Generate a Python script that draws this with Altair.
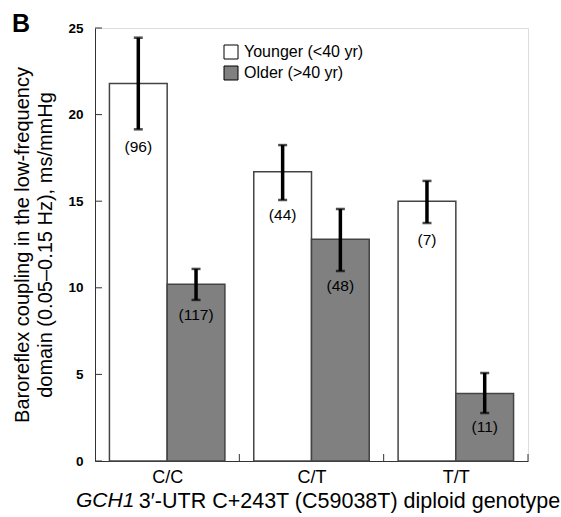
import altair as alt
import pandas as pd

genotypes = ["C/C", "C/T", "T/T"]
groups = ["Younger (<40 yr)", "Older (>40 yr)"]

mean_young = [21.8, 16.7, 15.0]
mean_old = [10.2, 12.8, 3.9]
low_young = [19.15, 15.07, 13.74]
high_young = [24.44, 18.24, 16.17]
low_old = [9.3, 10.97, 2.77]
high_old = [11.09, 14.55, 5.08]
n_young = ["(96)", "(44)", "(7)"]
n_old = ["(117)", "(48)", "(11)"]
labely_young = [18.13, 14.2, 12.76]
labely_old = [8.43, 10.1, 1.96]

y_tick_values = [0, 5, 10, 15, 20, 25]
x_title_italic = "GCH1"
x_title_rest = "3\u2032-UTR C+243T (C59038T) diploid genotype"
y_title = ["Baroreflex coupling in the low-frequency", "domain (0.05\u20130.15 Hz), ms/mmHg"]
panel_label = "B"

rows = []
for i, g in enumerate(genotypes):
    rows.append(dict(genotype=g, group=groups[0], mean=mean_young[i], lo=low_young[i],
                     hi=high_young[i], n=n_young[i], ly=labely_young[i]))
    rows.append(dict(genotype=g, group=groups[1], mean=mean_old[i], lo=low_old[i],
                     hi=high_old[i], n=n_old[i], ly=labely_old[i]))
df = pd.DataFrame(rows)

W, H = 433, 433
FONT = "Liberation Sans"

xscale = alt.Scale(domain=genotypes, paddingInner=0, paddingOuter=0)
xoff = alt.XOffset("group:N", sort=groups, scale=alt.Scale(domain=groups, paddingInner=0, paddingOuter=0.25))
yscale = alt.Scale(domain=[0, 25], nice=False, zero=True)

x_enc = alt.X(
    "genotype:N", sort=genotypes, scale=xscale,
    axis=alt.Axis(
        title=x_title_rest, titleFontSize=21.5, titleFontWeight="normal", titleFont=FONT,
        titleX=254, titleY=46, titleBaseline="alphabetic", titleAlign="center",
        labelAngle=0, labelFontSize=18, labelFont=FONT, labelPadding=7, labelColor="black",
        ticks=False, domainColor="#333", domainWidth=1, tickBand="extent", grid=False,
    ),
)
y_enc = alt.Y(
    "mean:Q", scale=yscale,
    axis=alt.Axis(
        title=y_title, titleFontSize=20, titleFontWeight="normal", titleFont=FONT,
        titleX=-63, titleY=H / 2, titleBaseline="bottom", titleAngle=-90, titleLineHeight=23,
        values=y_tick_values, labelFontSize=13.5, labelFontWeight="bold", labelFont=FONT,
        labelPadding=12, labelColor="black",
        ticks=False, domainColor="#333", domainWidth=1, grid=False,
    ),
)

base = alt.Chart(df)

bars = base.mark_bar(stroke="#444", strokeWidth=1.5).encode(
    x=x_enc, xOffset=xoff, y=y_enc,
    fill=alt.Fill("group:N", sort=groups,
                  scale=alt.Scale(domain=groups, range=["white", "#808080"]),
                  legend=alt.Legend(
                      title=None, orient="none", legendX=128, legendY=16,
                      symbolType="square", symbolSize=196, symbolStrokeColor="black",
                      symbolStrokeWidth=1, labelFontSize=16, labelFont=FONT,
                      labelOffset=5, rowPadding=3, padding=0, labelColor="black",
                  )),
)

err = base.mark_rule(color="black", strokeWidth=3.5).encode(
    x=alt.X("genotype:N", sort=genotypes, scale=xscale), xOffset=xoff,
    y=alt.Y("lo:Q", scale=yscale), y2="hi:Q",
)
cap_lo = base.mark_tick(color="black", thickness=2.5, size=9).encode(
    x=alt.X("genotype:N", sort=genotypes, scale=xscale), xOffset=xoff,
    y=alt.Y("lo:Q", scale=yscale),
)
cap_hi = base.mark_tick(color="black", thickness=2.5, size=9).encode(
    x=alt.X("genotype:N", sort=genotypes, scale=xscale), xOffset=xoff,
    y=alt.Y("hi:Q", scale=yscale),
)
nlabels = base.mark_text(fontSize=15.5, font=FONT, baseline="middle", color="black").encode(
    x=alt.X("genotype:N", sort=genotypes, scale=xscale), xOffset=xoff,
    y=alt.Y("ly:Q", scale=yscale), text="n:N",
)

ytick_df = pd.DataFrame({"v": y_tick_values})
yticks = alt.Chart(ytick_df).mark_rule(color="#333", strokeWidth=1).encode(
    y=alt.Y("v:Q", scale=yscale), x=alt.value(0), x2=alt.value(7),
)
xtick_df = pd.DataFrame({"genotype": genotypes})
xticks = alt.Chart(xtick_df).mark_rule(color="#333", strokeWidth=1).encode(
    x=alt.X("genotype:N", sort=genotypes, scale=xscale, bandPosition=1),
    y=alt.value(H), y2=alt.value(H - 7),
)

italic_df = pd.DataFrame({"t": [x_title_italic]})
italic = alt.Chart(italic_df).mark_text(
    fontSize=21, font=FONT, fontStyle="italic", align="left", baseline="alphabetic", color="black"
).encode(x=alt.value(-19), y=alt.value(H + 46), text="t:N")

panel_df = pd.DataFrame({"t": [panel_label]})
panel = alt.Chart(panel_df).mark_text(
    fontSize=25, font=FONT, fontWeight="bold", align="left", baseline="alphabetic", color="black"
).encode(x=alt.value(-83), y=alt.value(4), text="t:N")

chart = alt.layer(bars, err, cap_lo, cap_hi, nlabels, yticks, xticks, italic, panel).properties(
    width=W, height=H,
    padding={"left": 95, "top": 28, "right": 33, "bottom": 56},
    autosize=alt.AutoSizeParams(type="none"),
).configure_view(stroke=None).configure(font=FONT, background="white")

chart.save("out.html", embed_options={"renderer": "svg", "actions": False})
